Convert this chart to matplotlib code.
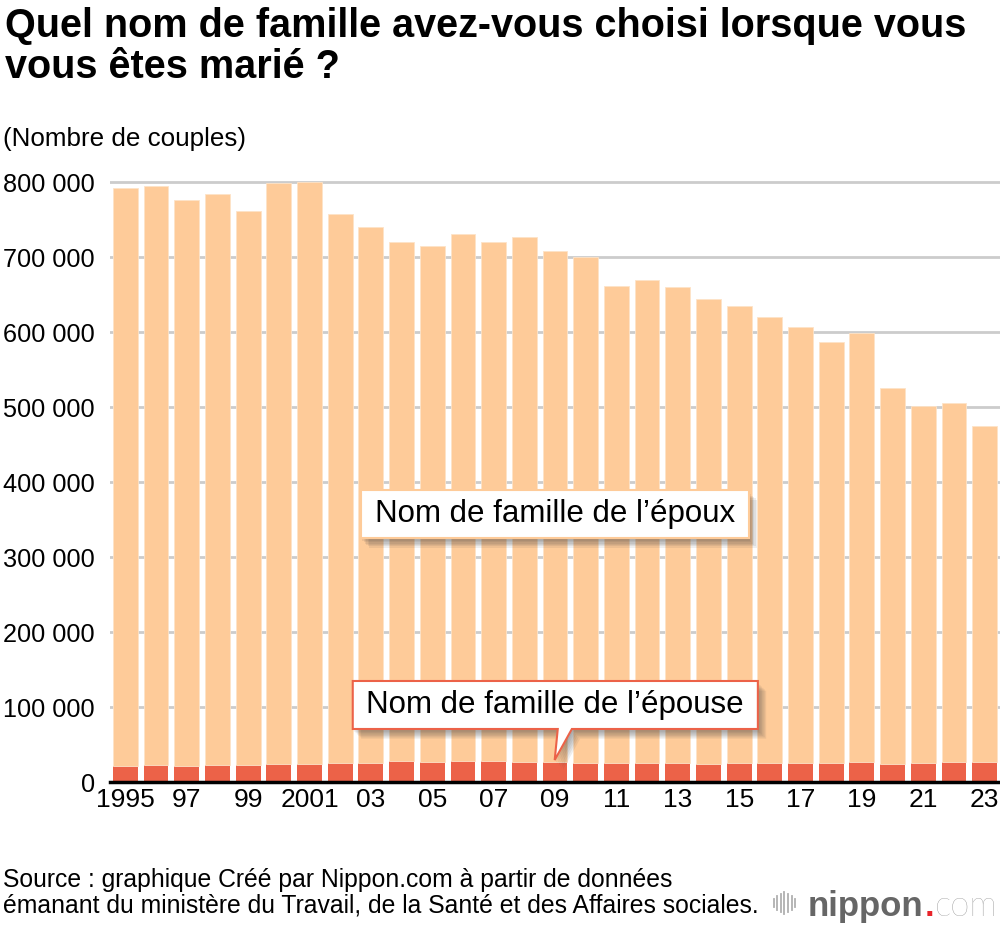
import matplotlib
matplotlib.use("Agg")
import matplotlib.pyplot as plt
import matplotlib.patheffects as pe
from matplotlib.patches import Polygon
from matplotlib.lines import Line2D

plt.rcParams["font.family"] = ["Liberation Sans", "DejaVu Sans"]

# data (couples per year)
years = list(range(1995, 2024))
total = [791888, 795080, 775651, 784595, 762028, 798138, 799999, 757331,
         740191, 720417, 714265, 730971, 719822, 726106, 707734, 700222,
         661895, 668869, 660613, 643749, 635156, 620531, 606952, 586481,
         599007, 525507, 501138, 504930, 474741]
wife = [21300, 22200, 21800, 22700, 23100, 24400, 24400, 24900, 25800,
        27600, 26700, 28000, 28000, 26700, 26700, 25800, 25300, 25300,
        25300, 24400, 25300, 25300, 25300, 25300, 27100, 24400, 25300,
        27100, 26700]
husband = [t - w for t, w in zip(total, wife)]

xtick_years = years[::2]
xtick_labels = ["1995", "97", "99", "2001", "03", "05", "07", "09", "11",
                "13", "15", "17", "19", "21", "23"]
yticks = list(range(0, 800001, 100000))

PEACH = "#fecb99"
RED = "#ec6248"

fig = plt.figure(figsize=(10, 9.26), dpi=100)
ax = fig.add_axes([0.11, 0.1555, 0.89, 0.656])

ax.bar(years, wife, width=0.81, color=RED, zorder=2)
ax.bar(years, husband, bottom=wife, width=0.81, color=PEACH,
       edgecolor="#fde3c8", linewidth=0.6, zorder=2)

ax.set_xlim(1994.5, 2023.5)
ax.set_ylim(0, 810000)
ax.set_yticks(yticks)
ax.set_yticklabels([f"{v:,}".replace(",", " ") for v in yticks])
ax.set_xticks(xtick_years)
ax.set_xticklabels(xtick_labels)
ax.tick_params(axis="y", length=0, pad=11, labelsize=18.2)
ax.tick_params(axis="x", length=0, pad=4, labelsize=19)
ax.grid(axis="y", color="#cccccc", linewidth=2)
ax.set_axisbelow(True)
for s in ["top", "right", "left"]:
    ax.spines[s].set_visible(False)
ax.spines["bottom"].set_linewidth(2.5)
ax.spines["bottom"].set_zorder(5)

# callouts, soft shadow built from a few faint offset copies
shadow = [pe.SimplePatchShadow(offset=(o, -o - 1), shadow_rgbFace="#444444",
                               alpha=0.09) for o in (1, 2, 3, 4, 5, 6)]
shadow.append(pe.Normal())

epoux_box = [(2002.67, 325300), (2015.31, 325300), (2015.31, 389300),
             (2002.67, 389300)]
ax.add_patch(Polygon(epoux_box, closed=True, facecolor="white",
                     edgecolor=PEACH, linewidth=1.5, zorder=6,
                     path_effects=shadow))
ax.text(2008.99, 357300, "Nom de famille de l\u2019époux", fontsize=22.5,
        ha="center", va="center", zorder=7)

epouse_box = [(2002.41, 70700), (2009.09, 70700), (2008.99, 29300),
              (2009.55, 70700), (2015.61, 70700), (2015.61, 134700),
              (2002.41, 134700)]
ax.add_patch(Polygon(epouse_box, closed=True, facecolor="white",
                     edgecolor=RED, linewidth=1.5, zorder=6,
                     path_effects=shadow))
ax.text(2009.01, 102700, "Nom de famille de l\u2019épouse", fontsize=22.5,
        ha="center", va="center", zorder=7)

# titles
H = 926.0
fig.text(0.005, 1 - 37 / H, "Quel nom de famille avez-vous choisi lorsque vous",
         fontsize=28.5, fontweight="bold", ha="left", va="baseline")
fig.text(0.005, 1 - 78 / H, "vous êtes marié ?",
         fontsize=28.5, fontweight="bold", ha="left", va="baseline")
fig.text(0.003, 1 - 139 / H, "(Nombre de couples)", fontsize=18.7,
         ha="left", va="center")

# source
fig.text(0.003, 1 - 887 / H,
         "Source : graphique Créé par Nippon.com à partir de données",
         fontsize=17.8, ha="left", va="baseline")
fig.text(0.003, 1 - 912 / H,
         "émanant du ministère du Travail, de la Santé et des Affaires sociales.",
         fontsize=17.8, ha="left", va="baseline")

# logo
ly = 1 - 903 / H
for i, h in enumerate([0.35, 0.6, 0.85, 1.0, 0.85, 0.6, 0.35]):
    x = 0.7735 + i * 0.0036
    fig.add_artist(Line2D([x, x], [ly - 0.012 * h, ly + 0.012 * h],
                          color="#b0b0b0", linewidth=1.3))
r = fig.canvas.get_renderer()
t1 = fig.text(0.808, ly, "nippon", fontsize=25, fontweight="bold",
              color="#666666", ha="left", va="center_baseline")
x1 = t1.get_window_extent(r).x1 / fig.bbox.width
t2 = fig.text(x1 + 0.001, ly, ".", fontsize=25, fontweight="bold",
              color="#e8242a", ha="left", va="center_baseline")
x2 = t2.get_window_extent(r).x1 / fig.bbox.width
fig.text(x2 + 0.001, ly, "com", fontsize=25, color="#8a8a8a", ha="left",
         va="center_baseline", family=["Lato", "Liberation Sans"],
         fontweight="light")

fig.savefig("out.png", dpi=100)
